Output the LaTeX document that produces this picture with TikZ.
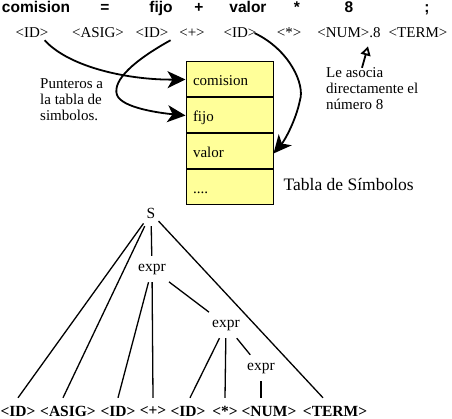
\documentclass[tikz,border=0pt]{standalone}
\usepackage{fontspec}
\setmainfont{Liberation Serif}
\newfontfamily\arialfont{Liberation Sans}
\usetikzlibrary{positioning,arrows.meta}
\definecolor{amarillo}{RGB}{255,255,153}

\tikzset{
	lexema/.style={anchor=base, inner sep=0pt, font=\arialfont\bfseries\fontsize{15.5}{16}\selectfont},
	categoria/.style={anchor=base, inner sep=2pt, font=\fontsize{15}{16}\selectfont},
	celda/.style={rectangle, draw=black, line width=1pt, fill=amarillo, minimum width=87pt, minimum height=35pt, text width=73pt, inner xsep=7pt, inner ysep=0pt, align=left, text height=12pt, text depth=0pt, font=\fontsize{15}{16}\selectfont},
	nota/.style={align=left, anchor=west, inner sep=0pt, font=\fontsize{15}{16}\selectfont},
	puntero/.style={line width=1.8pt, -{Stealth[length=18pt,width=17pt,inset=5pt]}},
	arbol/.style={inner sep=3pt, minimum height=26pt, font=\fontsize{15.5}{16}\selectfont},
	hoja/.style={inner xsep=0pt, minimum height=26pt, font=\bfseries\fontsize{15.5}{16}\selectfont},
	rama/.style={line width=1.3pt}
}

\begin{document}
\begin{tikzpicture}[x=1pt, y=-1pt]
	\useasboundingbox (0,0) rectangle (452,419);

	% sentencia de entrada
	\node[lexema] (tcom) at (36,13) {comision};
	\node[lexema] (tigual) at (105,13) {=};
	\node[lexema] (tfijo) at (161,13) {fijo};
	\node[lexema] (tmas) at (199,13) {+};
	\node[lexema] (tvalor) at (248,13) {valor};
	\node[lexema] (tpor) at (297,13) {*};
	\node[lexema] (tocho) at (349,13) {8};
	\node[lexema] (tpc) at (427,13) {;};

	% categorias lexicas
	\node[categoria] (id1) at (32,38) {<ID>};
	\node[categoria] (asig) at (98,38) {<ASIG>};
	\node[categoria] (id2) at (152,38) {<ID>};
	\node[categoria] (mas) at (192,38) {<+>};
	\node[categoria] (id3) at (240,38) {<ID>};
	\node[categoria] (por) at (289,38) {<*>};
	\node[categoria] (num) at (349,38) {<NUM>.8};
	\node[categoria] (term) at (418,38) {<TERM>};

	% tabla de simbolos
	\node[celda] (c1) at (229.5,79.5) {comision};
	\node[celda, below=0pt of c1] (c2) {fijo};
	\node[celda, below=0pt of c2] (c3) {valor};
	\node[celda, below=0pt of c3] (c4) {....};
	\node[right=10pt of c4, yshift=3pt, inner sep=0pt, font=\fontsize{17.5}{18}\selectfont] (tabla) {Tabla de Símbolos};

	\node[nota] (punteros) at (40,100) {Punteros a\\la tabla de\\simbolos.};
	\node[nota] (asocia) at (326,89) {Le asocia\\directamente el\\número 8};

	\draw[puntero] ([xshift=-6pt]id1.south east) .. controls (70,68) and (130,80) .. (c1.west);
	\draw[puntero] (id2.south east) .. controls (135,60) and (112,80) .. (117,95) .. controls (122,108) and (160,113) .. (c2.west);
	\draw[puntero] ([xshift=-4pt]id3.east) .. controls (290,50) and (305,85) .. (300,100) .. controls (296,120) and (285,140) .. ([yshift=-2pt]c3.east);
	\draw[line width=1.8pt, -{Triangle[open,length=9pt,width=10pt]}] ([xshift=36pt]asocia.north west) -- ([xshift=19pt,yshift=-6pt]num.south);

	% arbol sintactico
	\node[arbol] (S) at (151,213) {S};
	\node[arbol] (e1) at (152,269) {expr};
	\node[arbol] (e2) at (226,325) {expr};
	\node[arbol] (e3) at (261,368) {expr};

	\node[hoja] (l1) at (18,411) {<ID>};
	\node[hoja] (l2) at (68,411) {<ASIG>};
	\node[hoja] (l3) at (118,411) {<ID>};
	\node[hoja] (l4) at (153,411) {<+>};
	\node[hoja] (l5) at (188,411) {<ID>};
	\node[hoja] (l6) at (225,411) {<*>};
	\node[hoja] (l7) at (269,411) {<NUM>};
	\node[hoja] (l8) at (335,411) {<TERM>};

	\draw[rama] (S) -- (l1.north);
	\draw[rama] (S) -- ([xshift=-5pt]l2.north);
	\draw[rama] (S) -- (e1);
	\draw[rama] (S) -- ([xshift=-12pt]l8.north);
	\draw[rama] (e1) -- (l3.north);
	\draw[rama] (e1) -- (l4.north);
	\draw[rama] (e1) -- (e2);
	\draw[rama] (e2) -- ([xshift=2pt]l5.north);
	\draw[rama] (e2) -- (l6.north);
	\draw[rama] (e2) -- (e3);
	\draw[rama] (e3) -- ([xshift=-8pt]l7.north);
\end{tikzpicture}
\end{document}
